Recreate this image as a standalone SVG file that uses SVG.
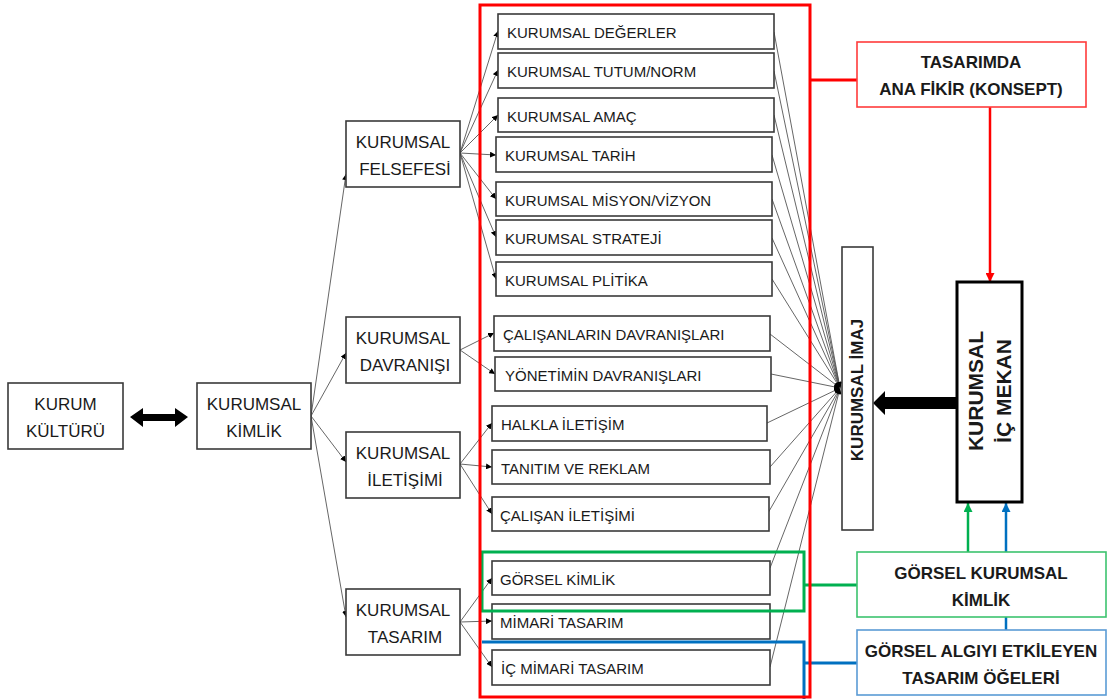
<svg xmlns="http://www.w3.org/2000/svg" width="1109" height="699" viewBox="0 0 1109 699">
  <defs>
    <style>
      .box { fill: #ffffff; stroke: #3a3a3a; stroke-width: 1.6; }
      .t { font-family: "Liberation Sans", Arial, sans-serif; fill: #1a1a1a; }
      .main { font-size: 17px; text-anchor: middle; }
      .leaf { font-size: 15px; }
      .bold { font-weight: bold; font-size: 17px; text-anchor: middle; }
      .link { stroke: #555555; stroke-width: 0.9; fill: none; }
    </style>
    <marker id="tip" viewBox="0 0 10 10" refX="10" refY="5" markerWidth="6" markerHeight="6" markerUnits="userSpaceOnUse" orient="auto">
      <path d="M0,0 L10,5 L0,10 z" fill="#000000"/>
    </marker>
    <marker id="tipRed" viewBox="0 0 10 10" refX="10" refY="5" markerWidth="9" markerHeight="9" markerUnits="userSpaceOnUse" orient="auto">
      <path d="M0,0 L10,5 L0,10 z" fill="#ff0000"/>
    </marker>
    <marker id="tipGreen" viewBox="0 0 10 10" refX="10" refY="5" markerWidth="9" markerHeight="9" markerUnits="userSpaceOnUse" orient="auto">
      <path d="M0,0 L10,5 L0,10 z" fill="#00b050"/>
    </marker>
    <marker id="tipBlue" viewBox="0 0 10 10" refX="10" refY="5" markerWidth="9" markerHeight="9" markerUnits="userSpaceOnUse" orient="auto">
      <path d="M0,0 L10,5 L0,10 z" fill="#0070c0"/>
    </marker>
  </defs>

  <rect width="1109" height="699" fill="#ffffff"/>

  <!-- connectors -->
  <g id="connectors">
    <!-- KURUMSAL KİMLİK to its four branches -->
    <g class="link" marker-end="url(#tip)">
      <line x1="311" y1="416" x2="346" y2="174"/>
      <line x1="311" y1="416" x2="346" y2="353"/>
      <line x1="311" y1="416" x2="346" y2="462"/>
      <line x1="311" y1="416" x2="346" y2="617"/>
      <!-- felsefe -->
      <line x1="460" y1="153" x2="498" y2="31"/>
      <line x1="460" y1="153" x2="498" y2="70"/>
      <line x1="460" y1="153" x2="498" y2="115"/>
      <line x1="460" y1="153" x2="496" y2="155"/>
      <line x1="460" y1="153" x2="496" y2="199"/>
      <line x1="460" y1="153" x2="496" y2="237"/>
      <line x1="460" y1="153" x2="496" y2="279"/>
      <!-- davranış -->
      <line x1="460" y1="350" x2="494" y2="333"/>
      <line x1="460" y1="350" x2="495" y2="374"/>
      <!-- iletişim -->
      <line x1="460" y1="464" x2="492" y2="423"/>
      <line x1="460" y1="464" x2="492" y2="467"/>
      <line x1="460" y1="464" x2="492" y2="514"/>
      <!-- tasarım -->
      <line x1="460" y1="622" x2="492" y2="578"/>
      <line x1="460" y1="622" x2="492" y2="621"/>
      <line x1="460" y1="622" x2="492" y2="667"/>
      <!-- all items converging on KURUMSAL İMAJ -->
      <line x1="774" y1="32" x2="840" y2="388"/>
      <line x1="774" y1="71" x2="840" y2="388"/>
      <line x1="774" y1="115" x2="840" y2="388"/>
      <line x1="772" y1="155" x2="840" y2="388"/>
      <line x1="772" y1="199" x2="840" y2="388"/>
      <line x1="772" y1="238" x2="840" y2="388"/>
      <line x1="772" y1="279" x2="840" y2="388"/>
      <line x1="770" y1="334" x2="840" y2="388"/>
      <line x1="771" y1="374" x2="840" y2="388"/>
      <line x1="767" y1="423" x2="840" y2="388"/>
      <line x1="770" y1="467" x2="840" y2="388"/>
      <line x1="768" y1="513" x2="840" y2="388"/>
      <line x1="770" y1="568" x2="840" y2="388"/>
      <line x1="770" y1="667" x2="840" y2="388"/>
    </g>

    <!-- double arrow between KURUM KÜLTÜRÜ and KURUMSAL KİMLİK -->
    <path d="M130,417 L143,408 L143,414 L175,414 L175,408 L188,417 L175,427 L175,421 L143,421 L143,427 Z" fill="#000000"/>

    <!-- thick arrow from KURUMSAL İÇ MEKAN to KURUMSAL İMAJ -->
    <path d="M873,403 L885,391 L885,397 L957,397 L957,409 L885,409 L885,415 Z" fill="#000000"/>

    <!-- concept box links -->
    <line x1="810" y1="80" x2="857" y2="80" stroke="#ff0000" stroke-width="3"/>
    <line x1="990" y1="107" x2="990" y2="282" stroke="#ff0000" stroke-width="2.5" marker-end="url(#tipRed)"/>
    <line x1="968" y1="552" x2="968" y2="503" stroke="#00b050" stroke-width="2.5" marker-end="url(#tipGreen)"/>
    <line x1="1006" y1="630" x2="1006" y2="503" stroke="#0070c0" stroke-width="2.5" marker-end="url(#tipBlue)"/>
    <line x1="804" y1="585" x2="857" y2="585" stroke="#00b050" stroke-width="3"/>
    <line x1="804" y1="663" x2="857" y2="663" stroke="#0070c0" stroke-width="3"/>
  </g>

  <!-- left chain -->
  <g id="kurum-kulturu">
    <rect class="box" x="8" y="383" width="115" height="66"/>
    <text class="t main" x="65.5" y="410">KURUM</text>
    <text class="t main" x="65.5" y="437">KÜLTÜRÜ</text>
  </g>
  <g id="kurumsal-kimlik">
    <rect class="box" x="197" y="383" width="114" height="66"/>
    <text class="t main" x="254" y="410">KURUMSAL</text>
    <text class="t main" x="254" y="437">KİMLİK</text>
  </g>
  <g id="kurumsal-felsefesi">
    <rect class="box" x="346" y="121" width="114" height="66"/>
    <text class="t main" x="403" y="148">KURUMSAL</text>
    <text class="t main" x="405" y="175">FELSEFESİ</text>
  </g>
  <g id="kurumsal-davranisi">
    <rect class="box" x="346" y="317" width="114" height="66"/>
    <text class="t main" x="403" y="344">KURUMSAL</text>
    <text class="t main" x="405" y="371">DAVRANIŞI</text>
  </g>
  <g id="kurumsal-iletisimi">
    <rect class="box" x="346" y="432" width="114" height="66"/>
    <text class="t main" x="403" y="459">KURUMSAL</text>
    <text class="t main" x="405" y="486">İLETİŞİMİ</text>
  </g>
  <g id="kurumsal-tasarim">
    <rect class="box" x="346" y="589" width="114" height="66"/>
    <text class="t main" x="403" y="616">KURUMSAL</text>
    <text class="t main" x="405" y="643">TASARIM</text>
  </g>

  <!-- items -->
  <g id="degerler"><rect class="box" x="498" y="14" width="276" height="35"/><text class="t leaf" x="507" y="38">KURUMSAL DEĞERLER</text></g>
  <g id="tutum-norm"><rect class="box" x="498" y="53" width="276" height="35"/><text class="t leaf" x="507" y="77">KURUMSAL TUTUM/NORM</text></g>
  <g id="amac"><rect class="box" x="498" y="98" width="276" height="34"/><text class="t leaf" x="507" y="122">KURUMSAL AMAÇ</text></g>
  <g id="tarih"><rect class="box" x="496" y="137" width="276" height="35"/><text class="t leaf" x="505" y="161">KURUMSAL TARİH</text></g>
  <g id="misyon-vizyon"><rect class="box" x="496" y="182" width="276" height="34"/><text class="t leaf" x="505" y="206">KURUMSAL MİSYON/VİZYON</text></g>
  <g id="strateji"><rect class="box" x="496" y="220" width="276" height="35"/><text class="t leaf" x="505" y="244">KURUMSAL STRATEJİ</text></g>
  <g id="politika"><rect class="box" x="496" y="262" width="276" height="34"/><text class="t leaf" x="505" y="286">KURUMSAL PLİTİKA</text></g>
  <g id="calisan-davranis"><rect class="box" x="494" y="316" width="276" height="35"/><text class="t leaf" x="503" y="340">ÇALIŞANLARIN DAVRANIŞLARI</text></g>
  <g id="yonetim-davranis"><rect class="box" x="495" y="357" width="276" height="34"/><text class="t leaf" x="505" y="381">YÖNETİMİN DAVRANIŞLARI</text></g>
  <g id="halkla-iletisim"><rect class="box" x="492" y="406" width="275" height="35"/><text class="t leaf" x="501" y="430">HALKLA İLETİŞİM</text></g>
  <g id="tanitim-reklam"><rect class="box" x="492" y="450" width="278" height="34"/><text class="t leaf" x="501" y="474">TANITIM VE REKLAM</text></g>
  <g id="calisan-iletisimi"><rect class="box" x="492" y="497" width="277" height="34"/><text class="t leaf" x="500" y="521">ÇALIŞAN İLETİŞİMİ</text></g>
  <g id="gorsel-kimlik"><rect class="box" x="492" y="561" width="278" height="34"/><text class="t leaf" x="500" y="585">GÖRSEL KİMLİK</text></g>
  <g id="mimari-tasarim"><rect class="box" x="492" y="604" width="278" height="35"/><text class="t leaf" x="500" y="628">MİMARİ TASARIM</text></g>
  <g id="ic-mimari-tasarim"><rect class="box" x="492" y="650" width="278" height="35"/><text class="t leaf" x="501" y="674">İÇ MİMARİ TASARIM</text></g>

  <!-- colour frames -->
  <g id="frames" fill="none">
    <rect x="482" y="552" width="322" height="59" stroke="#00b050" stroke-width="3"/>
    <polyline points="482,642 804,642 804,699" stroke="#0070c0" stroke-width="3"/>
    <rect x="480" y="5" width="330" height="692" stroke="#ff0000" stroke-width="3"/>
  </g>

  <!-- right side -->
  <g id="kurumsal-imaj">
    <rect class="box" x="842" y="247" width="31" height="283" stroke-width="1.4"/>
    <text class="t bold" transform="translate(863,390) rotate(-90)">KURUMSAL İMAJ</text>
  </g>
  <g id="kurumsal-ic-mekan">
    <rect x="957" y="282" width="65" height="220" fill="#ffffff" stroke="#000000" stroke-width="3"/>
    <text class="t bold" style="font-size:21px" transform="translate(983,391) rotate(-90)">KURUMSAL</text>
    <text class="t bold" style="font-size:21px" transform="translate(1011,391) rotate(-90)">İÇ MEKAN</text>
  </g>
  <g id="ana-fikir">
    <rect x="857" y="42" width="229" height="65" fill="#ffffff" stroke="#ff3b3b" stroke-width="1.6"/>
    <text class="t bold" x="971" y="68">TASARIMDA</text>
    <text class="t bold" x="971" y="95">ANA FİKİR (KONSEPT)</text>
  </g>
  <g id="gorsel-kurumsal-kimlik">
    <rect x="857" y="552" width="249" height="65" fill="#ffffff" stroke="#3cc36e" stroke-width="1.6"/>
    <text class="t bold" x="981" y="579">GÖRSEL KURUMSAL</text>
    <text class="t bold" x="981" y="606">KİMLİK</text>
  </g>
  <g id="gorsel-algi">
    <rect x="857" y="630" width="249" height="65" fill="#ffffff" stroke="#5b9bd5" stroke-width="1.6"/>
    <text class="t bold" x="981" y="657">GÖRSEL ALGIYI ETKİLEYEN</text>
    <text class="t bold" x="981" y="684">TASARIM ÖĞELERİ</text>
  </g>
</svg>
